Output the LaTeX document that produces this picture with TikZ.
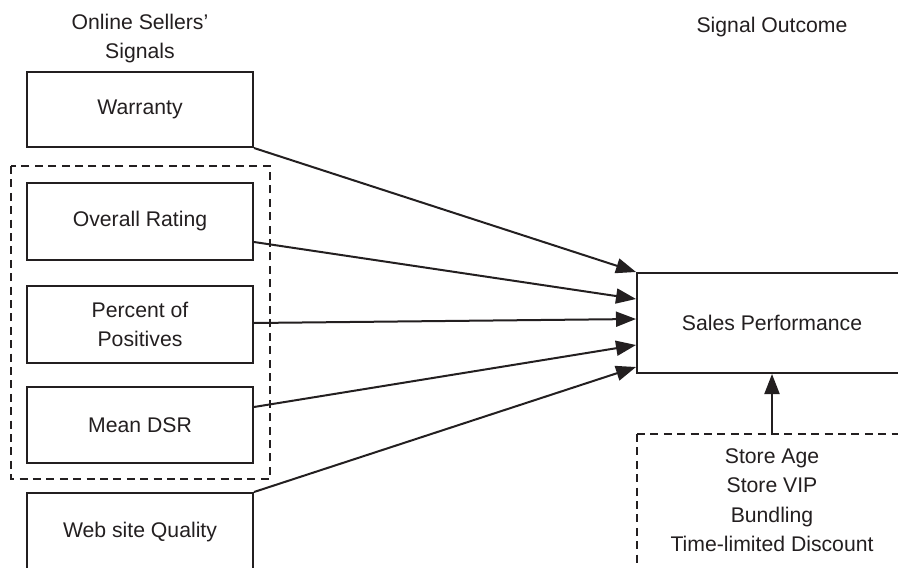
\documentclass[tikz,border=0pt]{standalone}
\usepackage{fontspec}
\setmainfont{Liberation Sans}
\usetikzlibrary{arrows.meta,calc}
\definecolor{ink}{HTML}{231F20}
\begin{document}
\begin{tikzpicture}[x=0.5pt,y=-0.5pt,
  every node/.style={font=\fontsize{10.6}{14.5}\selectfont, text=ink},
  box/.style={draw=ink, line width=1pt, inner sep=0pt, minimum width=113pt, align=center},
  dbox/.style={draw=ink, line width=0.9pt, dash pattern=on 4pt off 2.7pt},
  arr/.style={draw=ink, line width=1pt, -{Triangle[length=10pt,width=7.5pt]}},
  lbl/.style={align=center, inner sep=0pt}]
\clip (0,0) rectangle (898,567);
\fill[white] (0,0) rectangle (898,567);
\node[lbl] (t1) at (140,39) {Online Sellers’\\Signals};
\node[lbl] (t2) at (772,27) {Signal Outcome};
\node[box, minimum height=37.5pt] (war) at (140,109.5) {Warranty};
\node[box, minimum height=38.5pt] (ov) at (140,221.5) {Overall Rating};
\node[box, minimum height=38.5pt] (pc) at (140,324.5) {Percent of\\Positives};
\node[box, minimum height=38pt] (md) at (140,425) {Mean DSR};
\node[box, minimum height=39pt] (web) at (140,532) {Web site Quality};
\node[box, minimum width=135pt, minimum height=50pt] (sp) at (772,323) {Sales Performance};
\draw[dbox] (11,166) rectangle (270,479);
\coordinate (ctl) at (637,434);
\draw[dbox] (ctl) -- (910,434) (ctl) -- (637,600);
\coordinate (ctop) at (772,434);
\node[lbl, anchor=north, font=\fontsize{10.6}{14.75}\selectfont] (ctrl) at (772,448) {Store Age\\Store VIP\\Bundling\\Time-limited Discount};
\draw[arr] (war.south east) -- (sp.north west);
\draw[arr] ($(ov.east)+(0,20.5)$) -- ($(sp.north west)+(0,27)$);
\draw[arr] ($(pc.east)+(0,-1.5)$) -- ($(sp.north west)+(0,47)$);
\draw[arr] ($(md.east)+(0,-18)$) -- ($(sp.north west)+(0,73)$);
\draw[arr] (web.north east) -- ($(sp.north west)+(0,95)$);
\draw[arr] (ctop) -- (sp.south -| ctop);
\end{tikzpicture}
\end{document}
